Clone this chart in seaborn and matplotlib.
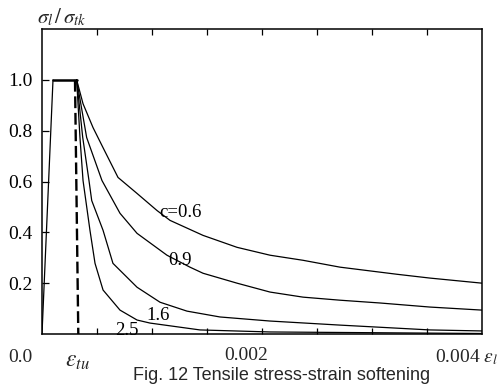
import numpy as np
import pandas as pd
import matplotlib
matplotlib.use("Agg")
import matplotlib.pyplot as plt
import seaborn as sns

# ---------------- data ----------------
rise_strain = [0.0, 0.0001]
rise_stress = [0.0, 1.0]
plateau_strain = [0.0001, 0.000315]
plateau_stress = [1.0, 1.0]
tu_strain = [0.0003, 0.00033]
tu_stress = [1.0, 0.0]

c06_strain = [0.000315, 0.000373, 0.000464, 0.000555, 0.000691, 0.000864, 0.001045,
              0.001164, 0.001464, 0.001773, 0.002073, 0.002373, 0.002709, 0.003227,
              0.003527, 0.004]
c06_stress = [1.0, 0.906, 0.812, 0.733, 0.616, 0.553, 0.486,
              0.447, 0.388, 0.341, 0.310, 0.290, 0.263, 0.235,
              0.220, 0.200]

c09_strain = [0.000315, 0.000406, 0.000545, 0.000709, 0.000864, 0.001136, 0.001345,
              0.001464, 0.001773, 0.002073, 0.002373, 0.002709, 0.003073, 0.003527, 0.004]
c09_stress = [1.0, 0.773, 0.604, 0.475, 0.396, 0.310, 0.263,
              0.239, 0.200, 0.165, 0.145, 0.133, 0.122, 0.106, 0.094]

c16_strain = [0.000315, 0.00037, 0.000427, 0.000452, 0.000555, 0.000645, 0.000864,
              0.001073, 0.001318, 0.001618, 0.002073, 0.002709, 0.003527, 0.004]
c16_stress = [1.0, 0.774, 0.604, 0.525, 0.408, 0.278, 0.184,
              0.125, 0.090, 0.067, 0.051, 0.035, 0.016, 0.012]

c25_strain = [0.000315, 0.000345, 0.000373, 0.000436, 0.000482, 0.000555, 0.000709,
              0.000864, 0.000982, 0.001436, 0.002073, 0.004]
c25_stress = [1.0, 0.774, 0.604, 0.408, 0.278, 0.173, 0.094,
              0.055, 0.043, 0.016, 0.008, 0.002]

curve_names = ["0.6", "0.9", "1.6", "2.5"]
curve_labels = ["c=0.6", "0.9", "1.6", "2.5"]

y_ticks = [0.2, 0.4, 0.6, 0.8, 1.0]
y_tick_labels = ["0.2", "0.4", "0.6", "0.8", "1.0"]
x_minor_ticks = [0.0005, 0.001, 0.0015, 0.002, 0.0025, 0.003, 0.0035]
x_label_texts = ["0.0", r"$\varepsilon_{tu}$", "0.002", r"0.004 $\varepsilon_{l}$"]
y_axis_title = r"$\sigma_l\,/\,\sigma_{tk}$"
caption = "Fig. 12 Tensile stress-strain softening"

# ---------------- figure ----------------
sns.set_theme(style="white")
plt.rcParams["font.family"] = ["Liberation Serif", "DejaVu Serif"]
plt.rcParams["mathtext.fontset"] = "stix"

W, H = 504, 389
fig = plt.figure(figsize=(W / 100, H / 100), dpi=100)
ax = fig.add_axes([42 / W, 1 - 334 / H, (482 - 42) / W, (334 - 29) / H])

frames = []
for name, xs, ys in zip(curve_names,
                        [c06_strain, c09_strain, c16_strain, c25_strain],
                        [c06_stress, c09_stress, c16_stress, c25_stress]):
    frames.append(pd.DataFrame({"strain": xs, "stress": ys, "c": name}))
df = pd.concat(frames, ignore_index=True)

sns.lineplot(data=df, x="strain", y="stress", units="c", estimator=None,
             sort=False, color="black", lw=0.9, ax=ax, legend=False)
sns.lineplot(x=rise_strain, y=rise_stress, color="black", lw=0.9, ax=ax,
             sort=False, legend=False)
sns.lineplot(x=plateau_strain, y=plateau_stress, color="black", lw=1.8, ax=ax,
             sort=False, legend=False)
ax.plot(tu_strain, tu_stress, color="black", lw=1.7, linestyle=(0, (5, 2)))

ax.set_xlim(0, 0.004)
ax.set_ylim(0, 1.2)
ax.set_xlabel("")
ax.set_ylabel("")

for s in ax.spines.values():
    s.set_visible(True)
    s.set_color("black")
    s.set_linewidth(1.1)

ax.set_xticks(x_minor_ticks)
ax.set_xticklabels([])
ax.tick_params(axis="x", which="both", direction="in", top=True, bottom=True,
               length=4, width=0.9, color="black", labelbottom=False)
ax.set_yticks(y_ticks)
ax.set_yticklabels(y_tick_labels)
ax.tick_params(axis="y", which="both", direction="in", left=True, right=False,
               length=5, width=0.9, color="black", pad=7, labelsize=14,
               labelcolor="black")

# curve labels
label_pos = [(0.001255, 0.478), (0.001255, 0.290), (0.001055, 0.071), (0.000773, 0.012)]
for txt, (lx, ly) in zip(curve_labels, label_pos):
    ax.text(lx, ly, txt, ha="center", va="center", fontsize=13.5, color="black")

# x-axis labels placed as in the reference
fig.text(20 / W, 1 - 357 / H, x_label_texts[0], ha="center", va="center", fontsize=14)
fig.text(77 / W, 1 - 362 / H, x_label_texts[1], ha="center", va="center", fontsize=17)
fig.text(246 / W, 1 - 356 / H, x_label_texts[2], ha="center", va="center", fontsize=14)
fig.text(435 / W, 1 - 357 / H, x_label_texts[3], ha="left", va="center", fontsize=14)

# axis title
fig.text(37 / W, 1 - 17 / H, y_axis_title, ha="left", va="center", fontsize=15)

# caption
fig.text(282 / W, 1 - 375 / H, caption, ha="center", va="center", fontsize=13,
         family=["Liberation Sans", "DejaVu Sans"])

fig.savefig("out.png", dpi=100, facecolor="white")
